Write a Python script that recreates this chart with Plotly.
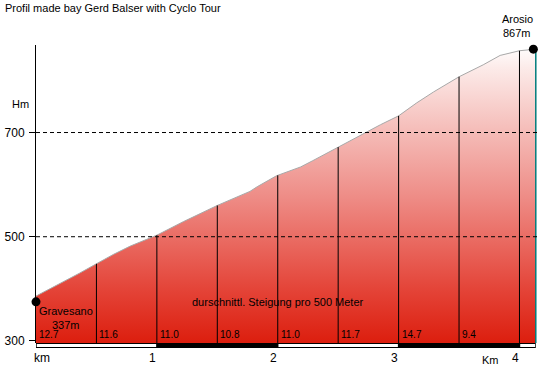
import numpy as np
import plotly.graph_objects as go

# Profile (distance in km, altitude on the chart's Hm scale)
km = [0, 0.22, 0.36, 0.50, 0.64, 0.78, 0.92, 1.00, 1.22, 1.50, 1.77, 1.83, 1.99,
      2.19, 2.29, 2.50, 2.71, 2.85, 3.00, 3.15, 3.29, 3.50, 3.70, 3.84, 4.00, 4.10, 4.135]
elev = [386, 412, 430, 448, 466, 482, 495, 503, 529, 560, 587, 596, 617,
        634, 646, 672, 699, 715, 732, 757, 778, 807, 830, 848, 857, 860, 860]

seg_km = [0.5, 1.0, 1.5, 2.0, 2.5, 3.0, 3.5, 4.0]
grad_km = [0, 0.5, 1.0, 1.5, 2.0, 2.5, 3.0, 3.5]
grad_labels = ["12.7", "11.6", "11.0", "10.8", "11.0", "11.7", "14.7", "9.4"]
km_ticks = [0, 1, 2, 3, 4]
km_tick_text = ["km", "1", "2", "3", "4"]
y_ticks = [300, 500, 700]
grid_levels = [500, 700]
start_name, start_alt, start_pos = "Gravesano", "337m", (0, 375)
end_name, end_alt, end_pos = "Arosio", "867m", (4.115, 860)
end_km = 4.135
Y0, Y1 = 296, 868
X1 = 4.145

FONT = "Liberation Sans"

fig = go.Figure()

fig.add_trace(go.Scatter(
    x=km, y=elev, mode="lines",
    line=dict(color="#a8a8a8", width=1),
    fill="tozeroy",
    fillgradient=dict(
        type="vertical", start=Y0, stop=Y1,
        colorscale=[[0, "rgb(220,30,14)"], [0.18, "rgb(228,68,56)"],
                    [0.48, "rgb(238,138,132)"], [0.72, "rgb(245,190,186)"],
                    [0.92, "rgb(252,234,232)"], [1, "rgb(255,255,255)"]]),
    hoverinfo="skip"))

# vertical 500 m lines
vx, vy = [], []
for s in seg_km:
    vx += [s, s, None]
    vy += [Y0, float(np.interp(s, km, elev)), None]
fig.add_trace(go.Scatter(x=vx, y=vy, mode="lines",
                         line=dict(color="black", width=1), hoverinfo="skip"))

# end line
fig.add_trace(go.Scatter(x=[end_km, end_km], y=[Y0, end_pos[1]], mode="lines",
                         line=dict(color="#007c7c", width=1.5), hoverinfo="skip"))

# start / end markers
fig.add_trace(go.Scatter(x=[start_pos[0], end_pos[0]], y=[start_pos[1], end_pos[1]],
                         mode="markers", marker=dict(color="black", size=9),
                         cliponaxis=False, hoverinfo="skip"))

shapes = []
for g in grid_levels:
    shapes.append(dict(type="line", xref="paper", x0=0, x1=1, yref="y", y0=g, y1=g,
                       line=dict(color="black", width=1, dash="4px,3px"), layer="above"))

# km bar below the plot
px = 1.0 / 298
shapes.append(dict(type="rect", xref="x", yref="paper", x0=0, x1=end_km,
                   y0=-5 * px, y1=0, line=dict(width=0), fillcolor="black", layer="above"))
for a, b in [(0, 1), (2, 3), (4, end_km)]:
    shapes.append(dict(type="rect", xref="x", yref="paper", x0=a + 0.006, x1=b - 0.006,
                       y0=-4 * px, y1=-1 * px, line=dict(width=0), fillcolor="white",
                       layer="above"))

ann = []
ann.append(dict(text="Profil made bay Gerd Balser with Cyclo Tour", xref="paper", yref="paper",
                x=-33 / 501, y=1 + 37 / 298, xanchor="left", yanchor="middle",
                showarrow=False, font=dict(size=11, color="black")))
ann.append(dict(text="Hm", xref="paper", yref="y", x=-16 / 501, y=Y0 + (343 - 104) / 0.521,
                xanchor="center", yanchor="middle", showarrow=False,
                font=dict(size=11, color="black")))
for k, t in zip(grad_km, grad_labels):
    ann.append(dict(text=t, x=k, y=Y0, xref="x", yref="y", xanchor="left", yanchor="bottom",
                    xshift=1, yshift=1, showarrow=False, font=dict(size=10, color="black")))
for k, t in zip(km_ticks, km_tick_text):
    ann.append(dict(text=t, x=k, xref="x", yref="paper", y=-15 * px, xanchor="center",
                    yanchor="middle", xshift=(6 if t == "km" else -4), showarrow=False,
                    font=dict(size=12, color="black")))
ann.append(dict(text="Km", x=3.76, xref="x", yref="paper", y=-17 * px, xanchor="center",
                yanchor="middle", showarrow=False, font=dict(size=11, color="black")))
ann.append(dict(text=start_name, x=start_pos[0], y=start_pos[1], xref="x", yref="y",
                xanchor="center", yanchor="middle", xshift=30, yshift=-9,
                showarrow=False, font=dict(size=11, color="black")))
ann.append(dict(text=start_alt, x=start_pos[0], y=start_pos[1], xref="x", yref="y",
                xanchor="center", yanchor="middle", xshift=30, yshift=-23,
                showarrow=False, font=dict(size=11, color="black")))
ann.append(dict(text=end_name, x=end_pos[0], y=end_pos[1], xref="x", yref="y",
                xanchor="center", yanchor="middle", xshift=-16, yshift=30,
                showarrow=False, font=dict(size=11, color="black")))
ann.append(dict(text=end_alt, x=end_pos[0], y=end_pos[1], xref="x", yref="y",
                xanchor="center", yanchor="middle", xshift=-16, yshift=16,
                showarrow=False, font=dict(size=11, color="black")))
ann.append(dict(text="durschnittl. Steigung pro 500 Meter", x=2.0, y=Y0 + 41 / 0.521,
                xref="x", yref="y", xanchor="center", yanchor="middle", showarrow=False,
                font=dict(size=11, color="black")))

fig.update_layout(
    width=540, height=366,
    margin=dict(l=36, r=3, t=45, b=23),
    paper_bgcolor="white", plot_bgcolor="white",
    showlegend=False,
    font=dict(family=FONT, color="black"),
    shapes=shapes, annotations=ann,
    xaxis=dict(range=[0, X1], showgrid=False, zeroline=False, showticklabels=False,
               ticks="", showline=False),
    yaxis=dict(range=[Y0, Y1], tickvals=y_ticks, ticks="outside", ticklen=6,
               tickcolor="black", showline=True, linecolor="black", linewidth=1,
               showgrid=False, zeroline=False, tickfont=dict(size=12, color="black"),
               ticklabelstandoff=2),
)

fig.write_html("out.html", config={"displayModeBar": False},
               post_script="document.body.style.margin='0';document.body.style.overflow='hidden';")
